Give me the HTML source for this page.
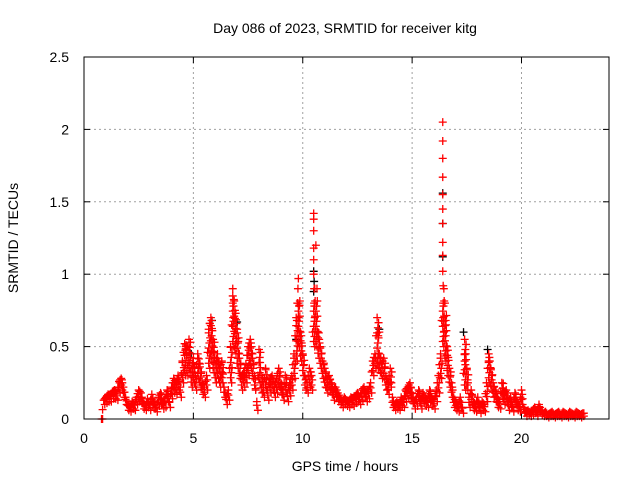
<!DOCTYPE html>
<html><head><meta charset="utf-8"><style>
body{margin:0;background:#fff;}
svg{display:block;font-family:"Liberation Sans",sans-serif;}
</style></head><body>
<svg id="chart" width="640" height="480" viewBox="0 0 640 480">
<text x="345" y="33" font-size="14" text-anchor="middle" fill="#000">Day 086 of 2023, SRMTID for receiver kitg</text>
<text transform="translate(18,238) rotate(-90)" font-size="14" text-anchor="middle">SRMTID / TECUs</text>
<text x="345" y="471" font-size="14" text-anchor="middle">GPS time / hours</text>
<g id="grid"></g>
<g id="ticks"></g>
<g id="black"></g>
<g id="red"></g>
<rect x="84" y="57" width="525" height="362" fill="none" stroke="#000" stroke-width="1"/>
</svg>
<script>
const xTicks=[0,5,10,15,20];
const yTicks=[0,0.5,1,1.5,2,2.5];
const yTickLabels=["0","0.5","1","1.5","2","2.5"];
const redStart=0.8;
const redStep=0.1;
const redValues=[0.0,0.13,0.15,0.17,0.16,0.19,0.2,0.18,0.26,0.28,
0.22,0.15,0.1,0.08,0.12,0.1,0.15,0.2,0.18,0.12,
0.09,0.14,0.1,0.17,0.12,0.08,0.15,0.18,0.11,0.14,
0.2,0.12,0.22,0.28,0.25,0.3,0.22,0.4,0.52,0.45,
0.55,0.35,0.42,0.3,0.45,0.38,0.25,0.22,0.3,0.62,
0.7,0.55,0.38,0.45,0.35,0.4,0.22,0.15,0.2,0.5,
0.9,0.75,0.62,0.45,0.3,0.32,0.38,0.5,0.55,0.45,
0.3,0.12,0.48,0.3,0.22,0.35,0.2,0.28,0.3,0.22,
0.28,0.35,0.25,0.2,0.3,0.18,0.25,0.3,0.45,0.7,
0.97,0.6,0.45,0.3,0.25,0.35,0.3,1.42,1.2,0.6,
0.5,0.4,0.35,0.28,0.3,0.25,0.2,0.22,0.18,0.15,
0.12,0.15,0.13,0.12,0.15,0.14,0.16,0.18,0.15,0.2,
0.22,0.18,0.2,0.25,0.4,0.45,0.7,0.45,0.38,0.42,
0.3,0.25,0.35,0.15,0.1,0.12,0.1,0.15,0.12,0.2,
0.22,0.25,0.18,0.12,0.15,0.2,0.12,0.18,0.15,0.13,
0.2,0.15,0.12,0.2,0.3,0.45,2.05,0.8,0.5,0.35,
0.25,0.15,0.12,0.1,0.15,0.08,0.55,0.35,0.15,0.2,
0.12,0.1,0.15,0.08,0.12,0.1,0.25,0.45,0.35,0.25,
0.2,0.15,0.12,0.25,0.18,0.2,0.12,0.15,0.1,0.18,
0.12,0.1,0.2,0.08,0.05,0.06,0.04,0.06,0.08,0.05,
0.1,0.06,0.04,0.05,0.03,0.04,0.05,0.03,0.04,0.05,
0.03,0.05,0.04,0.03,0.05,0.04,0.03,0.05,0.04,0.03,
0.04];
const redLow=[0.0,0.1,0.11,0.12,0.12,0.14,0.14,0.13,0.18,0.2,
0.15,0.1,0.06,0.05,0.07,0.06,0.1,0.12,0.11,0.07,
0.06,0.08,0.06,0.1,0.07,0.05,0.09,0.1,0.07,0.08,
0.12,0.08,0.14,0.18,0.17,0.2,0.15,0.25,0.3,0.3,
0.32,0.22,0.25,0.2,0.28,0.22,0.17,0.15,0.2,0.35,
0.4,0.32,0.25,0.28,0.22,0.25,0.15,0.1,0.13,0.25,
0.5,0.45,0.35,0.28,0.2,0.22,0.25,0.3,0.35,0.28,
0.2,0.06,0.25,0.18,0.15,0.2,0.13,0.18,0.2,0.15,
0.18,0.22,0.17,0.13,0.18,0.12,0.16,0.2,0.28,0.4,
0.5,0.4,0.3,0.2,0.18,0.22,0.2,0.5,0.5,0.42,
0.35,0.28,0.22,0.18,0.2,0.17,0.13,0.15,0.12,0.1,
0.08,0.1,0.09,0.08,0.1,0.09,0.11,0.12,0.1,0.13,
0.15,0.12,0.14,0.18,0.3,0.35,0.35,0.32,0.28,0.28,
0.2,0.17,0.22,0.08,0.06,0.07,0.06,0.09,0.08,0.12,
0.14,0.15,0.11,0.07,0.09,0.12,0.07,0.11,0.09,0.08,
0.12,0.09,0.07,0.12,0.18,0.28,0.5,0.4,0.3,0.22,
0.15,0.08,0.06,0.05,0.08,0.04,0.2,0.2,0.08,0.1,
0.06,0.05,0.08,0.04,0.06,0.05,0.12,0.25,0.2,0.15,
0.12,0.08,0.07,0.14,0.1,0.11,0.06,0.08,0.05,0.1,
0.06,0.05,0.1,0.04,0.02,0.03,0.02,0.03,0.04,0.02,
0.05,0.03,0.02,0.02,0.01,0.02,0.02,0.01,0.02,0.02,
0.01,0.02,0.02,0.01,0.02,0.02,0.01,0.02,0.02,0.01,
0.02];
const spikeTimes=[16.4,16.4,16.4,16.4,16.4,16.4,16.4,16.4,16.4,16.42,16.42,16.42,16.45,
10.5,10.5,10.5,10.5,10.5,10.52,10.52,10.55,
9.78,9.78,9.8,6.8,6.8,6.82,5.75,13.5,17.4,17.4,18.5,4.7,4.65];
const spikeValues=[1.92,1.8,1.67,1.55,1.45,1.35,1.22,1.13,1.02,0.92,0.8,0.7,0.6,
1.38,1.3,1.18,1.1,1.0,0.9,0.8,0.7,
0.9,0.8,0.7,0.85,0.8,0.7,0.66,0.6,0.45,0.4,0.4,0.48,0.5];
const blackTimes=[16.4,16.4,16.4,10.5,10.5,10.52,17.35,18.45,5.85,7.0,9.7,13.5,4.9];
const blackValues=[1.56,1.35,1.12,1.02,0.88,0.95,0.6,0.48,0.68,0.67,0.55,0.62,0.45];

const X0=84,X1=609,Y0=419,Y1=57,XMAX=24,YMAX=2.5;
const xs=t=>X0+(X1-X0)*t/XMAX;
const ys=v=>Y0-(Y0-Y1)*v/YMAX;
const NS="http://www.w3.org/2000/svg";
function mk(tag,attrs,parent){const e=document.createElementNS(NS,tag);for(const k in attrs)e.setAttribute(k,attrs[k]);parent.appendChild(e);return e;}
const grid=document.getElementById('grid'),ticks=document.getElementById('ticks');
xTicks.forEach(t=>{
  const x=xs(t);
  if(t>0){const l=mk('line',{x1:x,y1:Y0,x2:x,y2:Y1,stroke:'#a0a0a0','stroke-dasharray':'2,3'},grid);
  
  }
  mk('line',{x1:x,y1:Y0,x2:x,y2:Y0-6,stroke:'#000'},ticks);
  mk('line',{x1:x,y1:Y1,x2:x,y2:Y1+6,stroke:'#000'},ticks);
  const tx=mk('text',{x:x,y:Y0+24,'font-size':14,'text-anchor':'middle'},ticks);
  tx.textContent=t;
  
  
});
yTicks.forEach((v,i)=>{
  const y=ys(v);
  if(v>0&&v<YMAX){const l=mk('line',{x1:X0,y1:y,x2:X1,y2:y,stroke:'#a0a0a0','stroke-dasharray':'2,3'},grid);
  
  }
  mk('line',{x1:X0,y1:y,x2:X0+6,y2:y,stroke:'#000'},ticks);
  mk('line',{x1:X1,y1:y,x2:X1-6,y2:y,stroke:'#000'},ticks);
  const tx=mk('text',{x:X0-15,y:y+5,'font-size':14,'text-anchor':'end'},ticks);
  tx.textContent=yTickLabels[i];
  
  
});
function plus(g,t,v,color,name){
  const x=xs(t),y=ys(v);
  const p=mk('path',{d:`M${x-4},${y}H${x+4}M${x},${y-4}V${y+4}`,stroke:color,'stroke-width':1.3,fill:'none'},g);
  
  
}
const bg=document.getElementById('black'),rg=document.getElementById('red');
blackTimes.forEach((t,i)=>plus(bg,t,blackValues[i],'#000','black-point'));
redValues.forEach((v,i)=>{
  const t=redStart+i*redStep;
  const lo=redLow[i];
  plus(rg,t,v,'#ff0000','red-point');
  plus(rg,t+0.05,lo,'#ff0000','red-point');
  const cap=Math.min(v,lo+0.35);
  let k=0;
  for(let u=lo+0.035;u<cap;u+=0.035){
    plus(rg,t+(k%3)*0.033,u,'#ff0000','red-point');
    k++;
  }
  const nv=i+1<redValues.length?redValues[i+1]:v;
  plus(rg,t+0.05,Math.min((v+nv)/2,lo+0.4),'#ff0000','red-point');
});
spikeTimes.forEach((t,i)=>plus(rg,t,spikeValues[i],'#ff0000','red-point'));
</script>
</body></html>
